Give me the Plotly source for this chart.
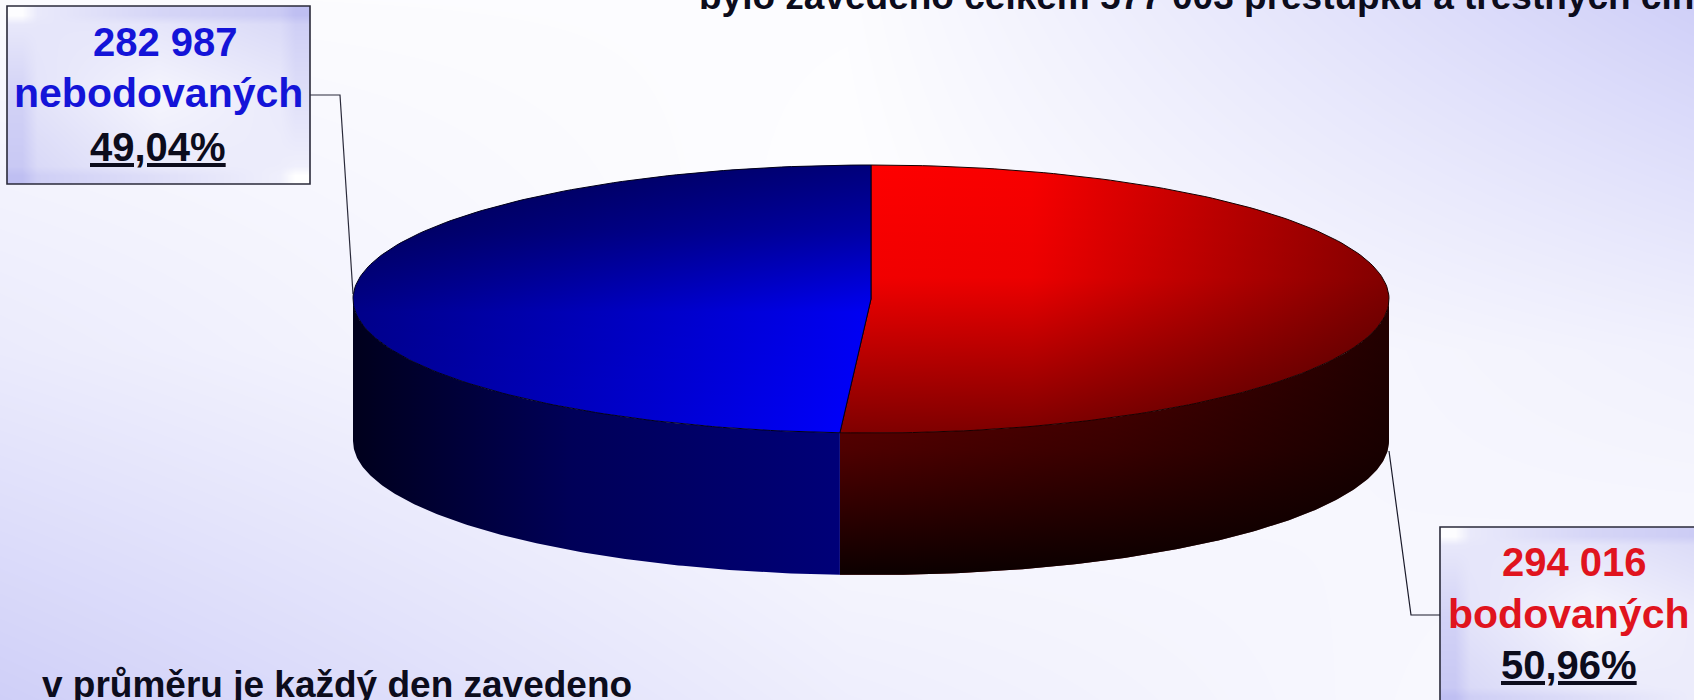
import math
import plotly.graph_objects as go

# ---- data ----
categories = ["bodovaných", "nebodovaných"]
values = [294016, 282987]
count_labels = ["294 016", "282 987"]
percent_labels = ["50,96%", "49,04%"]
title_text = "bylo zavedeno celkem 577 003 přestupků a trestných činů"
footer_text = "v průměru je každý den zavedeno"

# ---- layout constants ----
W, H = 1694, 700
CX, CY, RX, RY, DEPTH = 871, 299, 518, 134, 142
FS = 40
BLACK_TXT = "#0c0c1c"


def pt(deg, dy=0):
    a = math.radians(deg)
    return CX + RX * math.sin(a), CY - RY * math.cos(a) + dy


def arc(a0, a1, dy=0, n=160):
    pts = [pt(a0 + (a1 - a0) * i / n, dy) for i in range(n + 1)]
    return [p[0] for p in pts], [p[1] for p in pts]


def poly(xs, ys, gradient, line=None):
    return go.Scatter(
        x=xs, y=ys, mode="lines", fill="toself", hoverinfo="skip", showlegend=False,
        line=dict(width=line[1], color=line[0]) if line else dict(width=0, color="rgba(0,0,0,0)"),
        fillgradient=gradient,
    )


def gh(stops):
    return dict(type="horizontal", colorscale=stops)


def gv(stops):
    # the y axis runs downwards, so stop 0 is the bottom of the fill
    return dict(type="vertical", colorscale=[[1 - p, c] for p, c in reversed(stops)])


fig = go.Figure()

# page background and label boxes: soft diagonal lavender wash
bg_scale = [[0, "#ffffff"], [1, "#cfcff8"]]
fig.add_trace(go.Heatmap(
    x=[0, W / 2, W], y=[0, H / 2, H],
    z=[[0.08, 0.06, 1.0], [0.42, 0.0, 0.3], [1.0, 0.35, 0.05]],
    colorscale=bg_scale, zmin=0, zmax=1, zsmooth="best", showscale=False, hoverinfo="skip",
))

box_scale = [[0, "#ffffff"], [1, "#bfbff2"]]
BOX_L = (7, 6, 310, 184)
BOX_R = (1440, 527, 1743, 705)
for (x0, y0, x1, y1) in (BOX_L, BOX_R):
    w, h = x1 - x0, y1 - y0
    # four edges for three bricks keep the wash inside the box
    fig.add_trace(go.Heatmap(
        x=[x0, x0 + w * 0.1, x0 + w * 0.9, x1], y=[y0, y0 + h * 0.1, y0 + h * 0.9, y1],
        z=[[0.03, 0.65, 1.0], [0.7, 0.15, 0.5], [1.0, 0.5, 0.0]],
        colorscale=box_scale, zmin=0, zmax=1, zsmooth="best", showscale=False, hoverinfo="skip",
    ))

# slice angles come from the values, clockwise from the top
total = sum(values)
split = 360 * values[0] / total

# side walls
sx0, sy0 = arc(90, split)
bx0, by0 = arc(split, 90, DEPTH)
fig.add_trace(poly(sx0 + bx0, sy0 + by0,
                   gh([[0, "#780000"], [0.5, "#560000"], [1, "#240000"]])))
fig.add_trace(poly(sx0 + bx0, sy0 + by0,
                   gv([[0, "rgba(0,0,0,0)"], [0.55, "rgba(0,0,0,0.35)"], [1, "rgba(0,0,0,0.9)"]])))

sx1, sy1 = arc(split, 270)
bx1, by1 = arc(270, split, DEPTH)
fig.add_trace(poly(sx1 + bx1, sy1 + by1,
                   gh([[0, "#00001c"], [0.45, "#000058"], [1, "#000078"]])))

# top faces
rx, ry = arc(0, split)
fig.add_trace(poly(rx + [CX, rx[0]], ry + [CY, ry[0]],
                   gh([[0, "#ff0000"], [0.35, "#f80000"], [1, "#880000"]])))
fig.add_trace(poly(rx + [CX, rx[0]], ry + [CY, ry[0]],
                   gv([[0, "rgba(0,0,0,0)"], [0.42, "rgba(0,0,0,0.05)"], [1, "rgba(0,0,0,0.5)"]]),
                   line=("#180000", 1)))

ux, uy = arc(split, 360)
fig.add_trace(poly(ux + [CX, ux[0]], uy + [CY, uy[0]],
                   gh([[0, "#000090"], [0.5, "#0000c8"], [1, "#0000ff"]])))
fig.add_trace(poly(ux + [CX, ux[0]], uy + [CY, uy[0]],
                   gv([[0, "rgba(0,0,0,0.52)"], [0.25, "rgba(0,0,0,0.35)"], [0.55, "rgba(0,0,0,0.05)"], [1, "rgba(0,0,0,0)"]]),
                   line=("#000018", 1)))

# box borders and leader lines
shapes = []
for (x0, y0, x1, y1) in (BOX_L, BOX_R):
    shapes.append(dict(type="rect", x0=x0, y0=y0, x1=x1, y1=y1, xref="x", yref="y",
                       line=dict(color="#2a2a3a", width=1.6)))
lx, ly = pt(270)
shapes.append(dict(type="path", xref="x", yref="y",
                   path=f"M {BOX_L[2]} 95 L 340 95 L {lx} {ly - 5}",
                   line=dict(color="#2a2a3a", width=1.2)))
rx_, ry_ = pt(90, 152)
shapes.append(dict(type="path", xref="x", yref="y",
                   path=f"M {rx_} {ry_} L 1411 615 L {BOX_R[0]} 615",
                   line=dict(color="#1a1a2a", width=1.2)))


def label(x, base, text, color, size=FS, anchor="center", weight="bold"):
    return dict(x=x, y=base + 0.212 * size + 1, xref="x", yref="y", text=text, showarrow=False,
                xanchor=anchor, yanchor="bottom",
                font=dict(family="Liberation Sans", size=size, color=color, weight=weight))


BLUE_TXT, RED_TXT = "#1414d8", "#e0141e"
ann = [
    label(165, 57, count_labels[1], BLUE_TXT),
    label(158, 108, categories[1], BLUE_TXT, size=41),
    label(158, 162, f"<u>{percent_labels[1]}</u>", BLACK_TXT),
    label(1574, 577, count_labels[0], RED_TXT),
    label(1568, 629, categories[0], RED_TXT, size=41),
    label(1569, 680, f"<u>{percent_labels[0]}</u>", BLACK_TXT),
    label(697, 10, title_text, BLACK_TXT, size=37, anchor="left"),
]
ann.append(dict(x=40, y=662, xref="x", yref="y", text=footer_text, showarrow=False,
                xanchor="left", yanchor="top",
                font=dict(family="Liberation Sans", size=37, color=BLACK_TXT, weight="bold")))

fig.update_layout(
    width=W, height=H, margin=dict(l=0, r=0, t=0, b=0),
    paper_bgcolor="#ffffff", plot_bgcolor="#ffffff", showlegend=False,
    xaxis=dict(range=[0, W], visible=False, fixedrange=True),
    yaxis=dict(range=[H, 0], visible=False, fixedrange=True),
    shapes=shapes, annotations=ann,
)

fig.write_html("out.html", config={"displayModeBar": False},
               post_script="document.body.style.margin='0';document.body.style.overflow='hidden';")
